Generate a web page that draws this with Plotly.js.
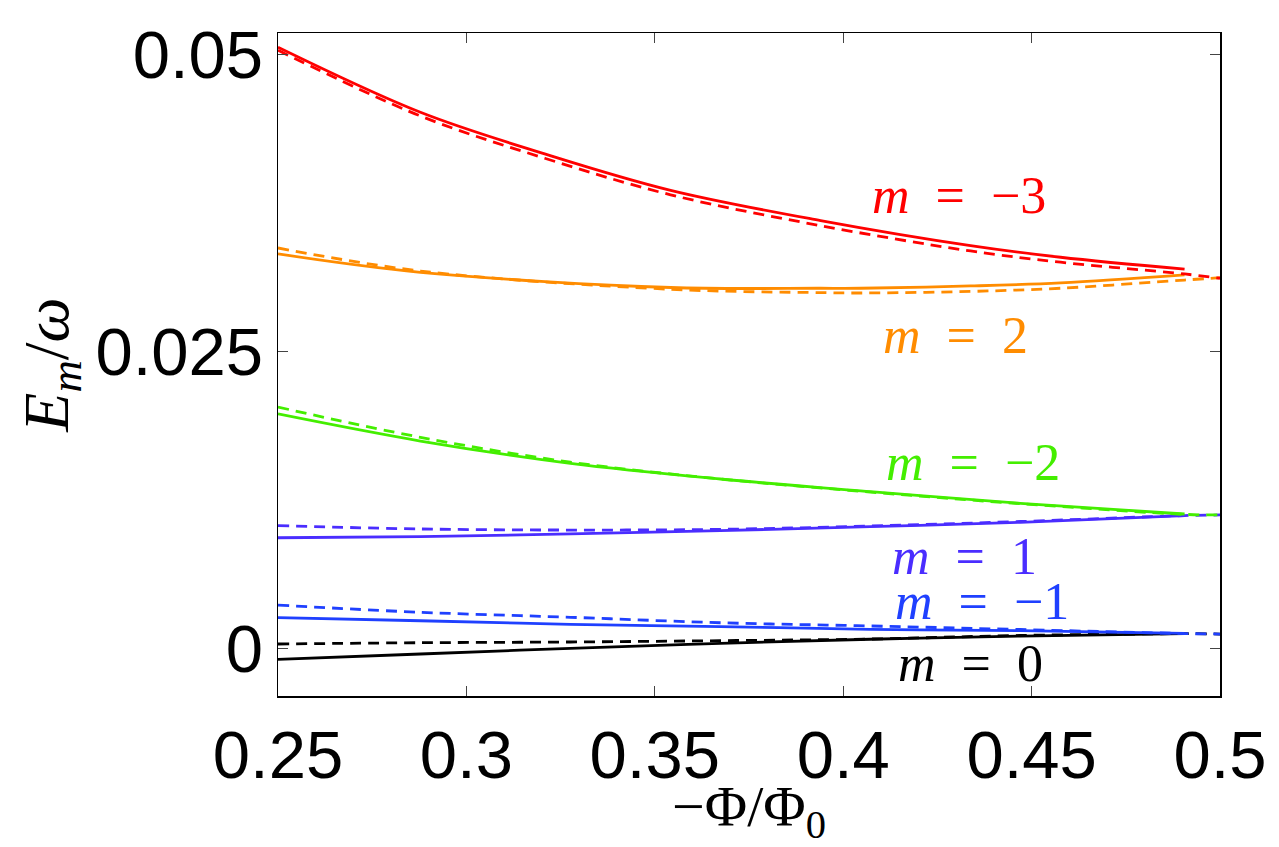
<!DOCTYPE html>
<html>
<head>
<meta charset="utf-8">
<script src="https://cdn.plot.ly/plotly-3.0.1.min.js"></script>
<style>html,body{margin:0;padding:0;background:#fff;}#plot{width:1279px;height:847px;}</style>
</head>
<body>
<div id="plot"></div>
<script>
// x grids (−Φ/Φ0)
const xRed      = [0.25, 0.2878, 0.321, 0.3542, 0.394, 0.4338, 0.4577, 0.4906];
const xRedDash  = [0.25, 0.2878, 0.321, 0.3542, 0.394, 0.4338, 0.4577, 0.4906, 0.5];
const xOr       = [0.25, 0.2878, 0.3542, 0.394, 0.4046, 0.4338, 0.4577, 0.4906];
const xOrDash   = [0.25, 0.2878, 0.3542, 0.394, 0.4046, 0.4338, 0.4577, 0.4906, 0.5];
const xLow      = [0.25, 0.2878, 0.3276, 0.3674, 0.4072, 0.447, 0.4906];
const xLowDash  = [0.25, 0.2878, 0.3276, 0.3674, 0.4072, 0.447, 0.4906, 0.5];

// m = -3 (red)
const mM3Solid = [0.05065, 0.04517, 0.04165, 0.0386, 0.03605, 0.03394, 0.03296, 0.03195];
const mM3Dash  = [0.0504, 0.04486, 0.04128, 0.03822, 0.03562, 0.03349, 0.03254, 0.03155, 0.03119];
// m = 2 (orange)
const m2Solid  = [0.03324, 0.03169, 0.03041, 0.03035, 0.03035, 0.03054, 0.0308, 0.03147];
const m2Dash   = [0.03374, 0.0318, 0.03026, 0.02998, 0.02995, 0.03008, 0.03035, 0.03104, 0.03124];
// m = -2 (green)
const mM2Solid = [0.01976, 0.01748, 0.0156, 0.01428, 0.01321, 0.01223, 0.01133];
const mM2Dash  = [0.02034, 0.01779, 0.0157, 0.01428, 0.01318, 0.0122, 0.0113, 0.01125];
// m = 1 (violet-blue)
const m1Solid  = [0.00933, 0.00942, 0.00965, 0.00993, 0.01026, 0.01063, 0.01119];
const m1Dash   = [0.01035, 0.01007, 0.00998, 0.01004, 0.01032, 0.0107, 0.0112, 0.01125];
// m = -1 (blue)
const mM1Solid = [0.0026, 0.00234, 0.00204, 0.00184, 0.00162, 0.0015, 0.00128];
const mM1Dash  = [0.00366, 0.00305, 0.00263, 0.00217, 0.0019, 0.0016, 0.00126, 0.00122];
// m = 0 (black)
const m0Solid  = [-0.00091, -0.00046, 0.00002, 0.00044, 0.00078, 0.00105, 0.00126];
const m0Dash   = [0.00038, 0.00049, 0.00055, 0.00066, 0.0008, 0.0011, 0.00125, 0.00122];

const xTicks = [0.25, 0.3, 0.35, 0.4, 0.45, 0.5];
const xTickText = ['0.25', '0.3', '0.35', '0.4', '0.45', '0.5'];
const yTicks = [0, 0.025, 0.05];
const yTickText = ['0', '0.025', '0.05'];

const labelText = ['<i>m</i>&nbsp; = &nbsp;−3', '<i>m</i>&nbsp; = &nbsp;2', '<i>m</i>&nbsp; = &nbsp;−2', '<i>m</i>&nbsp; = &nbsp;1', '<i>m</i>&nbsp; = &nbsp;−1', '<i>m</i>&nbsp; = &nbsp;0'];
const labelX = [0.4072, 0.4099, 0.4107, 0.4125, 0.4133, 0.4139];
const labelY = [0.0382, 0.02633, 0.01571, 0.00779, 0.00392, -0.0013];

const cRed = '#ff0000', cOr = '#ff8c00', cGr = '#44ee00', cVi = '#4a2dff', cBl = '#1f40ff', cBk = '#000000';
const labelColors = [cRed, cOr, cGr, cVi, cBl, cBk];

const LW = 2.8;
const DASH = '11px,7px';
function solid(x, y, c) { return {x: x, y: y, type: 'scatter', mode: 'lines', line: {color: c, width: LW, shape: 'spline', smoothing: 1}, hoverinfo: 'skip'}; }
function dashed(x, y, c) { return {x: x, y: y, type: 'scatter', mode: 'lines', line: {color: c, width: LW, dash: DASH, shape: 'spline', smoothing: 1}, hoverinfo: 'skip'}; }

const data = [
  dashed(xLowDash, m0Dash, cBk), solid(xLow, m0Solid, cBk),
  dashed(xLowDash, mM1Dash, cBl), solid(xLow, mM1Solid, cBl),
  dashed(xLowDash, m1Dash, cVi), solid(xLow, m1Solid, cVi),
  dashed(xLowDash, mM2Dash, cGr), solid(xLow, mM2Solid, cGr),
  dashed(xOrDash, m2Dash, cOr), solid(xOr, m2Solid, cOr),
  dashed(xRedDash, mM3Dash, cRed), solid(xRed, mM3Solid, cRed)
];

const annotations = labelText.map((t, i) => ({
  x: labelX[i], y: labelY[i], xref: 'x', yref: 'y', text: t, showarrow: false,
  xanchor: 'left', yanchor: 'middle',
  font: {family: 'Liberation Serif, DejaVu Serif, serif', size: 52, color: labelColors[i]}
}));

const layout = {
  width: 1279, height: 847,
  margin: {l: 277.5, r: 58.5, t: 33, b: 151, pad: 0},
  paper_bgcolor: '#fff', plot_bgcolor: '#fff',
  showlegend: false,
  xaxis: {
    range: [0.25, 0.5], tickvals: xTicks, ticktext: xTickText,
    showgrid: false, zeroline: false, showline: true, mirror: 'ticks',
    linecolor: '#000', linewidth: 1.5, ticks: 'inside', ticklen: 10, tickcolor: '#444', tickwidth: 1,
    tickfont: {family: 'Liberation Sans, Arial, sans-serif', size: 67, color: '#000'},
    title: {text: '−Φ/Φ<sub>0</sub>', font: {family: 'Liberation Serif, DejaVu Serif, serif', size: 58, color: '#000'}, standoff: 10}
  },
  yaxis: {
    range: [-0.0040, 0.05185], tickvals: yTicks, ticktext: yTickText,
    showgrid: false, zeroline: false, showline: true, mirror: 'ticks',
    linecolor: '#000', linewidth: 1.5, ticks: 'inside', ticklen: 10, tickcolor: '#444', tickwidth: 1,
    tickfont: {family: 'Liberation Sans, Arial, sans-serif', size: 67, color: '#000'},
    title: {text: '<i>E<sub>m</sub></i>/<i>ω</i>', font: {family: 'Liberation Serif, DejaVu Serif, serif', size: 64, color: '#000'}, standoff: 6}
  },
  annotations: annotations
};

Plotly.newPlot('plot', data, layout, {displayModeBar: false, staticPlot: true});
</script>
</body>
</html>
